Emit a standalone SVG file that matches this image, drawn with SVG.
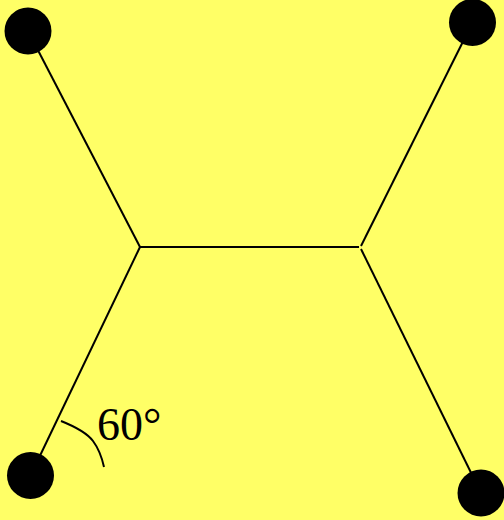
<svg xmlns="http://www.w3.org/2000/svg" width="504" height="520" viewBox="0 0 504 520">
<style>
.edge{stroke:#000;stroke-width:2;fill:none}
.dot{fill:#000}
.lbl{font-family:"Liberation Serif",serif;font-size:46px;fill:#000}
</style>
<rect width="504" height="520" fill="#ffff66"/>
<g id="connectors">
<line class="edge" x1="140" y1="247" x2="28" y2="31"/>
<line class="edge" x1="140" y1="247" x2="30.5" y2="475.5"/>
<line class="edge" x1="140" y1="247" x2="359" y2="247"/>
<line class="edge" x1="361" y1="246" x2="472.5" y2="22.5"/>
<line class="edge" x1="361" y1="249" x2="481" y2="493"/>
</g>
<g id="angle">
<path class="edge" d="M61,421 C76,427 87,433 93,441 C99,449 102,458 104,467"/>
<text class="lbl" x="97" y="440">60°</text>
</g>
<g id="n1"><circle class="dot" cx="28" cy="31" r="23.5"/></g>
<g id="n2"><circle class="dot" cx="472.5" cy="22.5" r="23.5"/></g>
<g id="n3"><circle class="dot" cx="30.5" cy="475.5" r="23.5"/></g>
<g id="n4"><circle class="dot" cx="481" cy="493" r="23.5"/></g>
</svg>
